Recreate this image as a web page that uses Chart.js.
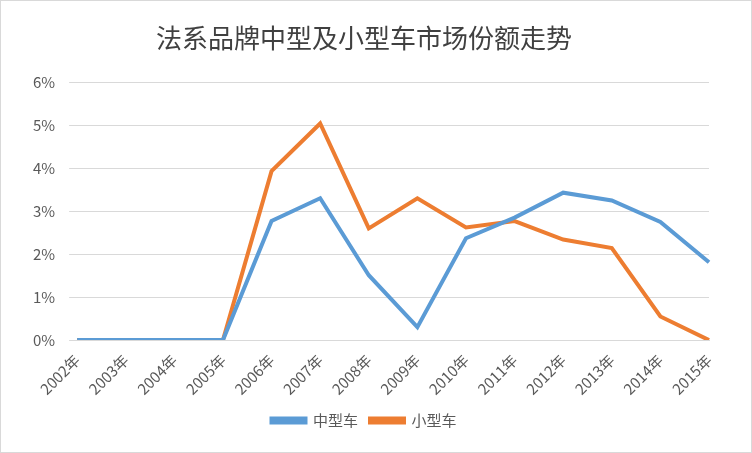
<!DOCTYPE html>
<html>
<head>
<meta charset="utf-8">
<script src="https://cdn.jsdelivr.net/npm/chart.js@4"></script>
<style>
  html, body { margin: 0; padding: 0; background: #fff; }
  #wrap { width: 750px; height: 451px; border: 1px solid #d9d9d9; position: relative; }
</style>
</head>
<body>
<div id="wrap"><canvas id="chart"></canvas></div>
<script>
const years = ["2002年","2003年","2004年","2005年","2006年","2007年","2008年","2009年","2010年","2011年","2012年","2013年","2014年","2015年"];
const midSize = [0, 0, 0, 0, 2.77, 3.30, 1.51, 0.30, 2.37, 2.85, 3.43, 3.25, 2.75, 1.81];
const smallSize = [0, 0, 0, 0, 3.93, 5.04, 2.60, 3.30, 2.62, 2.77, 2.34, 2.14, 0.55, 0];

const FONT = "'Noto Sans CJK SC', 'DejaVu Sans', sans-serif";

new Chart(document.getElementById("chart"), {
  type: "line",
  data: {
    labels: years,
    datasets: [
      { label: "中型车", data: midSize, borderColor: "#5b9bd5", backgroundColor: "#5b9bd5",
        borderWidth: 4, pointRadius: 0, tension: 0 },
      { label: "小型车", data: smallSize, borderColor: "#ed7d31", backgroundColor: "#ed7d31",
        borderWidth: 4, pointRadius: 0, tension: 0 }
    ]
  },
  options: {
    responsive: true,
    maintainAspectRatio: false,
    animation: false,
    layout: { padding: { left: 18, right: 42, top: 4, bottom: 14 } },
    plugins: {
      title: {
        display: true, text: "法系品牌中型及小型车市场份额走势",
        color: "#404040", font: { family: FONT, size: 26, weight: "normal" },
        padding: { top: 18, bottom: 28 }
      },
      legend: {
        position: "bottom",
        labels: { color: "#595959", font: { family: FONT, size: 15 },
          boxWidth: 34, boxHeight: 4, padding: 12 }
      },
      tooltip: { enabled: false }
    },
    scales: {
      x: {
        grid: { display: false },
        border: { color: "#d9d9d9" },
        ticks: { color: "#595959", font: { family: FONT, size: 15 }, maxRotation: 45, minRotation: 45 }
      },
      y: {
        min: 0, max: 6,
        grid: { color: "#d9d9d9" },
        border: { display: false },
        ticks: { stepSize: 1, color: "#595959", font: { family: FONT, size: 15 },
          padding: 14, callback: v => v + "%" }
      }
    }
  }
});
</script>
</body>
</html>
